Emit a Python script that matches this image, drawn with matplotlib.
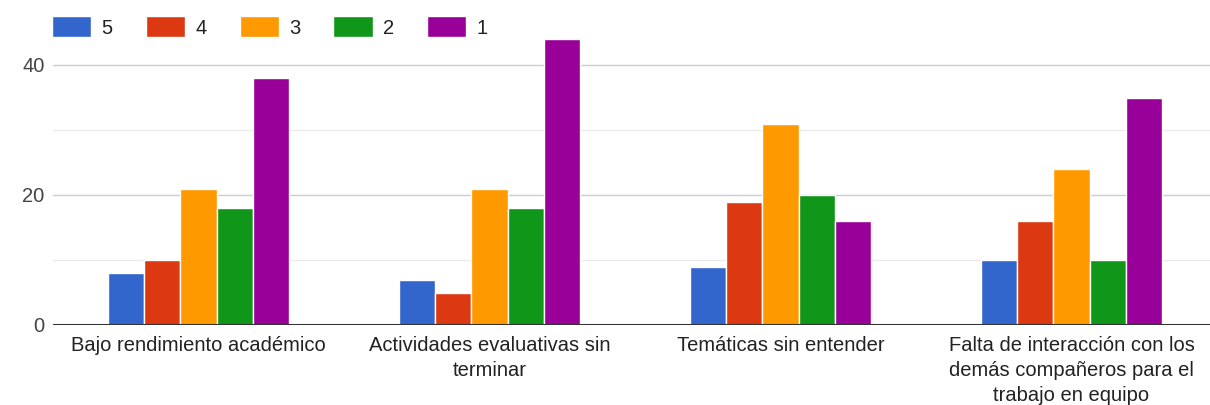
import numpy as np
import matplotlib
matplotlib.use("Agg")
import matplotlib.pyplot as plt
from matplotlib.patches import Patch

# ─── DATA ──────────────────────────────────────────────────────────
categories = ["Bajo rendimiento académico",
              "Actividades evaluativas sin\nterminar",
              "Temáticas sin entender",
              "Falta de interacción con los\ndemás compañeros para el\ntrabajo en equipo"]
series_names = ["5", "4", "3", "2", "1"]
s5 = [8, 7, 9, 10]
s4 = [10, 5, 19, 16]
s3 = [21, 21, 31, 24]
s2 = [18, 18, 20, 10]
s1 = [38, 44, 16, 35]
yticks = [0, 20, 40]

colors = ["#3366cc", "#dc3912", "#ff9900", "#109618", "#990099"]
plt.rcParams['font.family'] = ['Liberation Sans', 'DejaVu Sans']
FS = 14.5

fig = plt.figure(figsize=(12.1, 4.05), dpi=100)
ax = fig.add_axes([53/1210, 1-325/405, 1164/1210, 295/405])

x = np.arange(len(categories))
bw = 0.125
series = [s5, s4, s3, s2, s1]
for i, (vals, c) in enumerate(zip(series, colors)):
    ax.bar(x + (i - 2) * bw, vals, width=bw, color=c,
           edgecolor="white", linewidth=1.0, zorder=3)

ax.set_xlim(-0.5, len(categories) - 0.5)
ax.set_ylim(0, 295/6.5)
ax.set_yticks(yticks)
ax.set_yticks([10, 30], minor=True)
ax.grid(axis="y", which="major", color="#cccccc", linewidth=1, zorder=0)
ax.grid(axis="y", which="minor", color="#ebebeb", linewidth=1, zorder=0)
ax.axhline(0, color="#333333", linewidth=1.5, zorder=4)
for s in ax.spines.values():
    s.set_visible(False)
ax.tick_params(axis="y", which="both", length=0, labelsize=FS,
               labelcolor="#444444", pad=6)
ax.set_xticks(x)
ax.set_xticklabels(categories, fontsize=FS, color="#222222", linespacing=1.39)
ax.tick_params(axis="x", length=0, pad=8)

handles = [Patch(facecolor=c, edgecolor="white") for c in colors]
fig.legend(handles, series_names, loc="upper left", ncol=5, frameon=False,
           bbox_to_anchor=(34/1210, 1+2/405), fontsize=FS,
           handlelength=1.95, handleheight=1.25, handletextpad=0.5,
           columnspacing=1.65, labelcolor="#222222")

fig.savefig("out.png", dpi=100, facecolor="white")
